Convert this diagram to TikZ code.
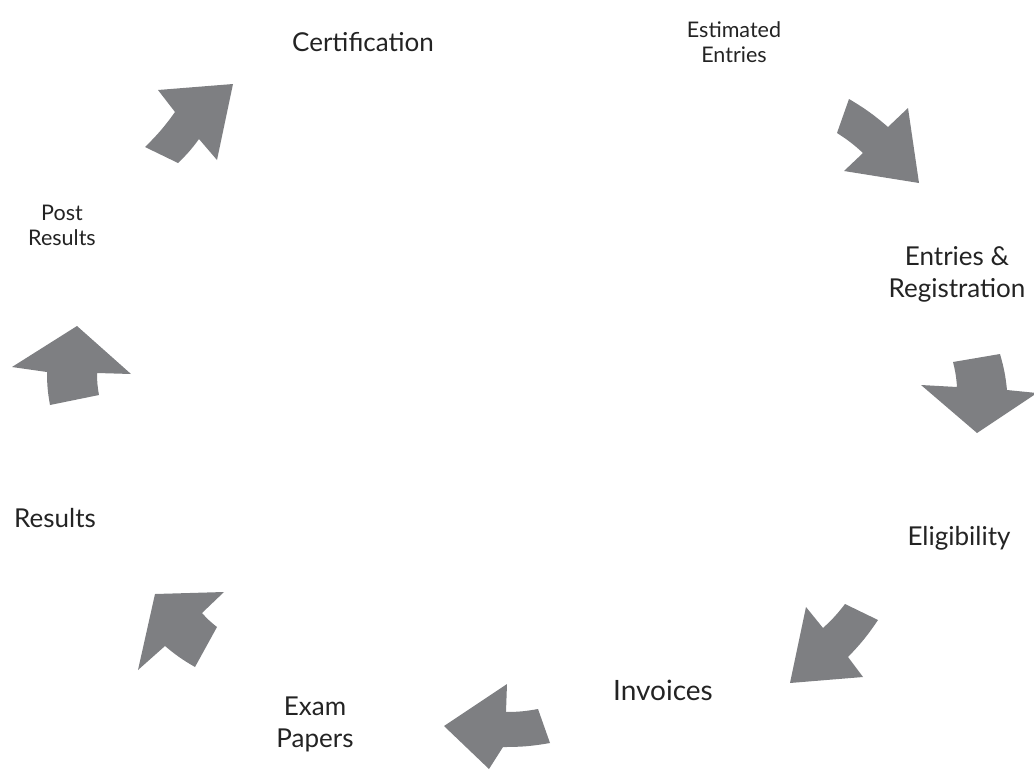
\documentclass[tikz,border=0pt]{standalone}
\usepackage{fontspec}
\setmainfont{Lato}
\usetikzlibrary{positioning}
\definecolor{arrowgrey}{HTML}{7E7F82}
\definecolor{labelgrey}{HTML}{232323}

\begin{document}
\begin{tikzpicture}[
                x = 1pt, y = -1pt, % one unit per pixel, y going down
                bend angle = 5, % slight curve on the arrow tails
                semithick
            ]

            \tikzstyle{every node}=[
            text = labelgrey,
            align = center,
            inner sep = 0pt
            ]
            \tikzstyle{biglabel}=[font=\fontsize{26}{32}\selectfont]
            \tikzstyle{smalllabel}=[font=\fontsize{21.5}{25}\selectfont]
            \tikzstyle{blockarrow}=[fill = arrowgrey, draw = none]

            \useasboundingbox (0,0) rectangle (1034,769);

            % labels round the cycle
            \node[biglabel] (cert) at (363,42) {Certification};
            \node[smalllabel] (est) at (734,42) {Estimated\\Entries};
            \node[biglabel] (entr) at (957,274) {Entries \&\\Registration};
            \node[biglabel] (elig) at (959,538) {Eligibility};
            \node[biglabel, font=\fontsize{28}{32}\selectfont] (inv) at (663,690) {Invoices};
            \node[biglabel] (exam) at (315,724) {Exam\\Papers};
            \node[biglabel] (res) at (55,518) {Results};
            \node[smalllabel] (post) at (62,225) {Post\\Results};

            % block arrows
            \fill[blockarrow] (849,99) to[bend left] (888,127) -- (908,108) -- (919,183)
                -- (844,171) -- (863,153) to[bend right] (837,133) -- cycle;
            \fill[blockarrow] (953,362) -- (1000,354) to[bend left] (1007,390) -- (1037,393)
                -- (977,433) -- (921,385) -- (957,387) to[bend right] cycle;
            \fill[blockarrow] (806,607) -- (823,628) to[bend right] (845,604) -- (878,620)
                to[bend left] (848,657) -- (863,677) -- (790,683) -- cycle;
            \fill[blockarrow] (444,726) -- (507,684) -- (506,712) to[bend right] (538,709)
                -- (550,743) to[bend left] (503,747) -- (489,769) -- cycle;
            \fill[blockarrow] (155,594) -- (224,592) -- (202,613) to[bend right] (217,627)
                -- (195,667) to[bend left] (165,646) -- (138,670) -- cycle;
            \fill[blockarrow] (77,326) -- (131,374) -- (97,373) to[bend right] (99,395)
                -- (50,405) to[bend left] (47,372) -- (12,367) -- cycle;
            \fill[blockarrow] (233,84) -- (158,90) -- (175,112) to[bend left] (145,147)
                -- (178,163) to[bend right] (199,139) -- (217,160) -- cycle;
        \end{tikzpicture}
\end{document}
